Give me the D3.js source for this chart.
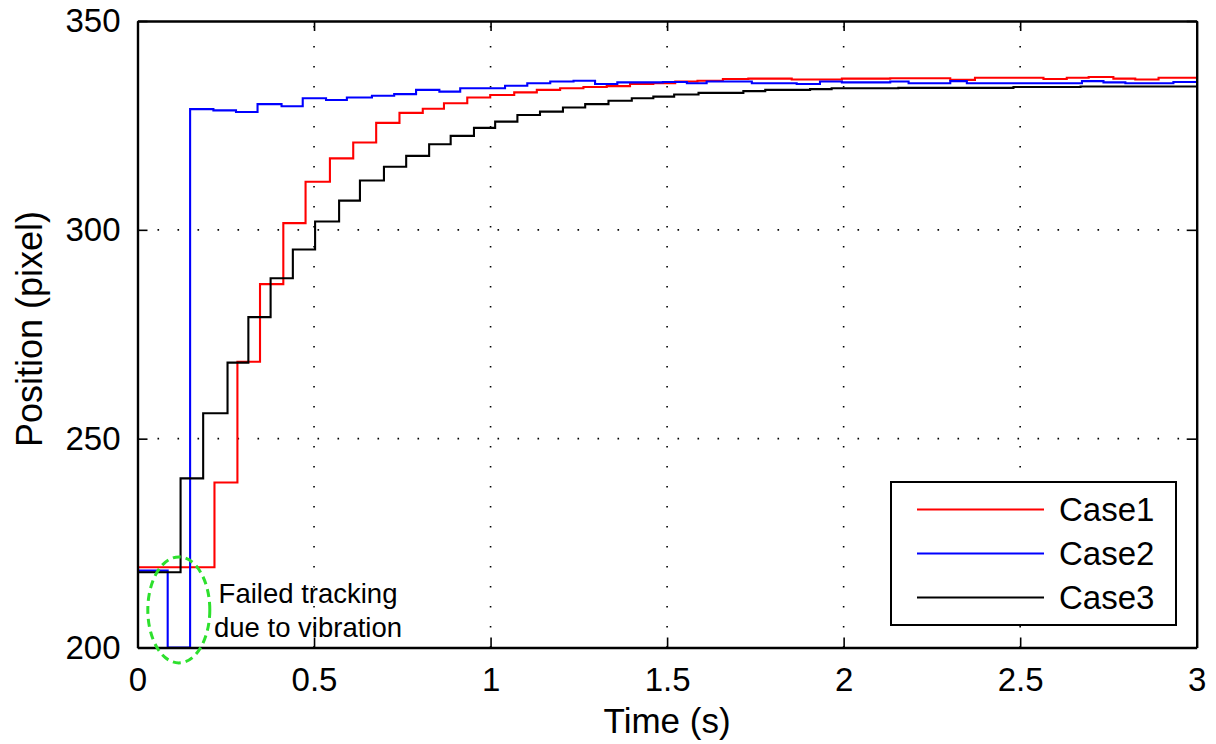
<!DOCTYPE html>
<html>
<head>
<meta charset="utf-8">
<script src="https://cdn.jsdelivr.net/npm/d3@7"></script>
<style>
  body { margin: 0; background: #fff; }
  text { font-family: "Liberation Sans", Arial, Helvetica, sans-serif; }
</style>
</head>
<body>
<div id="chart"></div>
<script>
var width = 1216
var height = 744
var plotLeft = 137.5, plotRight = 1196.7, plotTop = 21, plotBottom = 647.5

var seriesNames = ["Case1", "Case2", "Case3"]
var seriesColors = ["#ff0000", "#0000ff", "#000000"]

// step start times (s) and positions (pixel)
var case1Time = [0, 0.218, 0.283, 0.347, 0.413, 0.476, 0.545, 0.611, 0.676, 0.742, 0.808, 0.868, 0.934, 0.999, 1.067, 1.131, 1.197, 1.263, 1.329, 1.395, 1.461, 1.523, 1.586, 1.658, 1.73, 1.853, 1.995, 2.132, 2.302, 2.372, 2.566, 2.632, 2.694, 2.764, 2.826, 2.892, 3]
var case1Pos  = [219.2, 239.5, 268.4, 287.0, 301.6, 311.5, 317.1, 320.9, 325.6, 328.0, 329.0, 330.3, 331.7, 332.3, 332.9, 333.5, 333.9, 334.2, 334.4, 334.9, 335.1, 335.5, 335.7, 336.1, 336.2, 336.0, 336.2, 336.3, 335.9, 336.4, 336.1, 336.4, 336.6, 336.2, 336.0, 336.4, 336.4]

var case2Time = [0, 0.0855, 0.149, 0.215, 0.279, 0.34, 0.408, 0.468, 0.534, 0.593, 0.664, 0.727, 0.789, 0.855, 0.914, 1.041, 1.104, 1.169, 1.235, 1.296, 1.359, 1.488, 1.556, 1.612, 1.74, 1.867, 1.933, 1.995, 2.132, 2.184, 2.302, 2.349, 2.675, 2.736, 2.798, 2.934, 3]
var case2Pos  = [218.4, 200, 328.9, 328.6, 328.2, 330.1, 329.6, 331.5, 331.1, 331.7, 332.1, 332.5, 333.5, 333.1, 333.9, 334.5, 335.1, 335.5, 335.7, 334.9, 335.3, 335.4, 335.1, 335.5, 335.1, 334.9, 335.5, 335.3, 335.5, 335.1, 335.6, 335.1, 335.6, 335.3, 335.1, 335.4, 335.4]

var case3Time = [0, 0.122, 0.186, 0.255, 0.314, 0.377, 0.44, 0.503, 0.571, 0.63, 0.698, 0.761, 0.826, 0.887, 0.953, 1.013, 1.076, 1.14, 1.205, 1.268, 1.334, 1.40, 1.461, 1.52, 1.589, 1.716, 1.778, 1.905, 1.966, 2.155, 2.481, 2.671, 3]
var case3Pos  = [218.0, 240.5, 256.1, 268.2, 279.1, 288.4, 295.3, 302.0, 307.0, 311.8, 315.1, 317.7, 320.5, 322.5, 324.4, 325.9, 327.5, 328.3, 329.3, 330.1, 330.9, 331.5, 331.9, 332.4, 332.8, 333.2, 333.5, 333.7, 333.9, 334.0, 334.2, 334.3, 334.3]

var xTicks = [0, 0.5, 1, 1.5, 2, 2.5, 3]
var yTicks = [200, 250, 300, 350]

var series = [
  d3.zip(case1Time, case1Pos),
  d3.zip(case2Time, case2Pos),
  d3.zip(case3Time, case3Pos)
]

var x = d3.scaleLinear().domain([0, 3]).range([plotLeft, plotRight])
var y = d3.scaleLinear().domain([200, 350]).range([plotBottom, plotTop])

var svg = d3.select("#chart")
    .append("svg")
    .attr("width", width)
    .attr("height", height)
    .style("background", "#fff")

svg.append("defs").append("clipPath").attr("id", "plotclip")
    .append("rect")
    .attr("x", plotLeft).attr("y", plotTop)
    .attr("width", plotRight - plotLeft).attr("height", plotBottom - plotTop)

// dotted grid
var grid = svg.append("g")
    .attr("stroke", "#000")
    .attr("stroke-width", 1.6)
    .attr("stroke-dasharray", "1.6,18.4")
grid.selectAll(".gx").data(xTicks.slice(1, -1)).enter().append("line")
    .attr("x1", function(d) { return x(d) }).attr("x2", function(d) { return x(d) })
    .attr("y1", plotBottom).attr("y2", plotTop)
grid.selectAll(".gy").data(yTicks.slice(1, -1)).enter().append("line")
    .attr("y1", function(d) { return y(d) }).attr("y2", function(d) { return y(d) })
    .attr("x1", plotLeft).attr("x2", plotRight)

var line = d3.line()
    .x(function(d) { return x(d[0]) })
    .y(function(d) { return y(d[1]) })
    .curve(d3.curveStepAfter)

svg.append("g").attr("clip-path", "url(#plotclip)")
    .selectAll("path").data(series).enter().append("path")
    .attr("d", line)
    .attr("fill", "none")
    .attr("stroke", function(d, i) { return seriesColors[i] })
    .attr("stroke-width", 2.1)

// axes with inward ticks
var fmt = function(d) { return d3.format("~g")(d) }
svg.append("g").attr("transform", "translate(0," + plotBottom + ")")
    .call(d3.axisBottom(x).tickValues(xTicks).tickFormat(fmt).tickSizeInner(-10).tickSizeOuter(0).tickPadding(20))
svg.append("g").attr("transform", "translate(" + plotLeft + ",0)")
    .call(d3.axisLeft(y).tickValues(yTicks).tickFormat(fmt).tickSizeInner(-10).tickSizeOuter(0).tickPadding(17))
svg.append("g").attr("transform", "translate(0," + plotTop + ")")
    .call(d3.axisTop(x).tickValues(xTicks).tickFormat("").tickSizeInner(-10).tickSizeOuter(0))
svg.append("g").attr("transform", "translate(" + plotRight + ",0)")
    .call(d3.axisRight(y).tickValues(yTicks).tickFormat("").tickSizeInner(-10).tickSizeOuter(0))

svg.selectAll(".domain").attr("stroke", "#000").attr("stroke-width", 2.4)
svg.selectAll(".tick line").attr("stroke", "#000").attr("stroke-width", 1.6)
svg.selectAll(".tick text")
    .attr("fill", "#000")
    .style("font-size", "33px")
    .style("font-family", "'Liberation Sans', Arial, sans-serif")

svg.append("text")
    .attr("x", (plotLeft + plotRight) / 2)
    .attr("y", 733)
    .attr("text-anchor", "middle")
    .style("font-size", "35px")
    .text("Time (s)")

svg.append("text")
    .attr("transform", "translate(42,329) rotate(-90)")
    .attr("text-anchor", "middle")
    .style("font-size", "36px")
    .text("Position (pixel)")

// annotation
svg.append("ellipse")
    .attr("cx", x(0.117))
    .attr("cy", y(209))
    .attr("rx", 31)
    .attr("ry", 53)
    .attr("fill", "none")
    .attr("stroke", "#2de02d")
    .attr("stroke-width", 3)
    .attr("stroke-dasharray", "8,5")

svg.append("text")
    .attr("x", x(0.483)).attr("y", y(210.7))
    .attr("text-anchor", "middle")
    .style("font-size", "27.5px")
    .text("Failed tracking")
svg.append("text")
    .attr("x", x(0.483)).attr("y", y(202.6))
    .attr("text-anchor", "middle")
    .style("font-size", "27.5px")
    .text("due to vibration")

// legend
var legend = svg.append("g")
legend.append("rect")
    .attr("x", 891).attr("y", 482)
    .attr("width", 285).attr("height", 143)
    .attr("fill", "#fff")
    .attr("stroke", "#000")
    .attr("stroke-width", 2)
var items = legend.selectAll(".item").data(seriesNames).enter().append("g")
    .attr("transform", function(d, i) { return "translate(0," + (509.5 + i * 44) + ")" })
items.append("line")
    .attr("x1", 917).attr("x2", 1044)
    .attr("stroke", function(d, i) { return seriesColors[i] })
    .attr("stroke-width", 2)
items.append("text")
    .attr("x", 1059)
    .attr("dy", "0.36em")
    .style("font-size", "33px")
    .text(function(d) { return d })
</script>
</body>
</html>
